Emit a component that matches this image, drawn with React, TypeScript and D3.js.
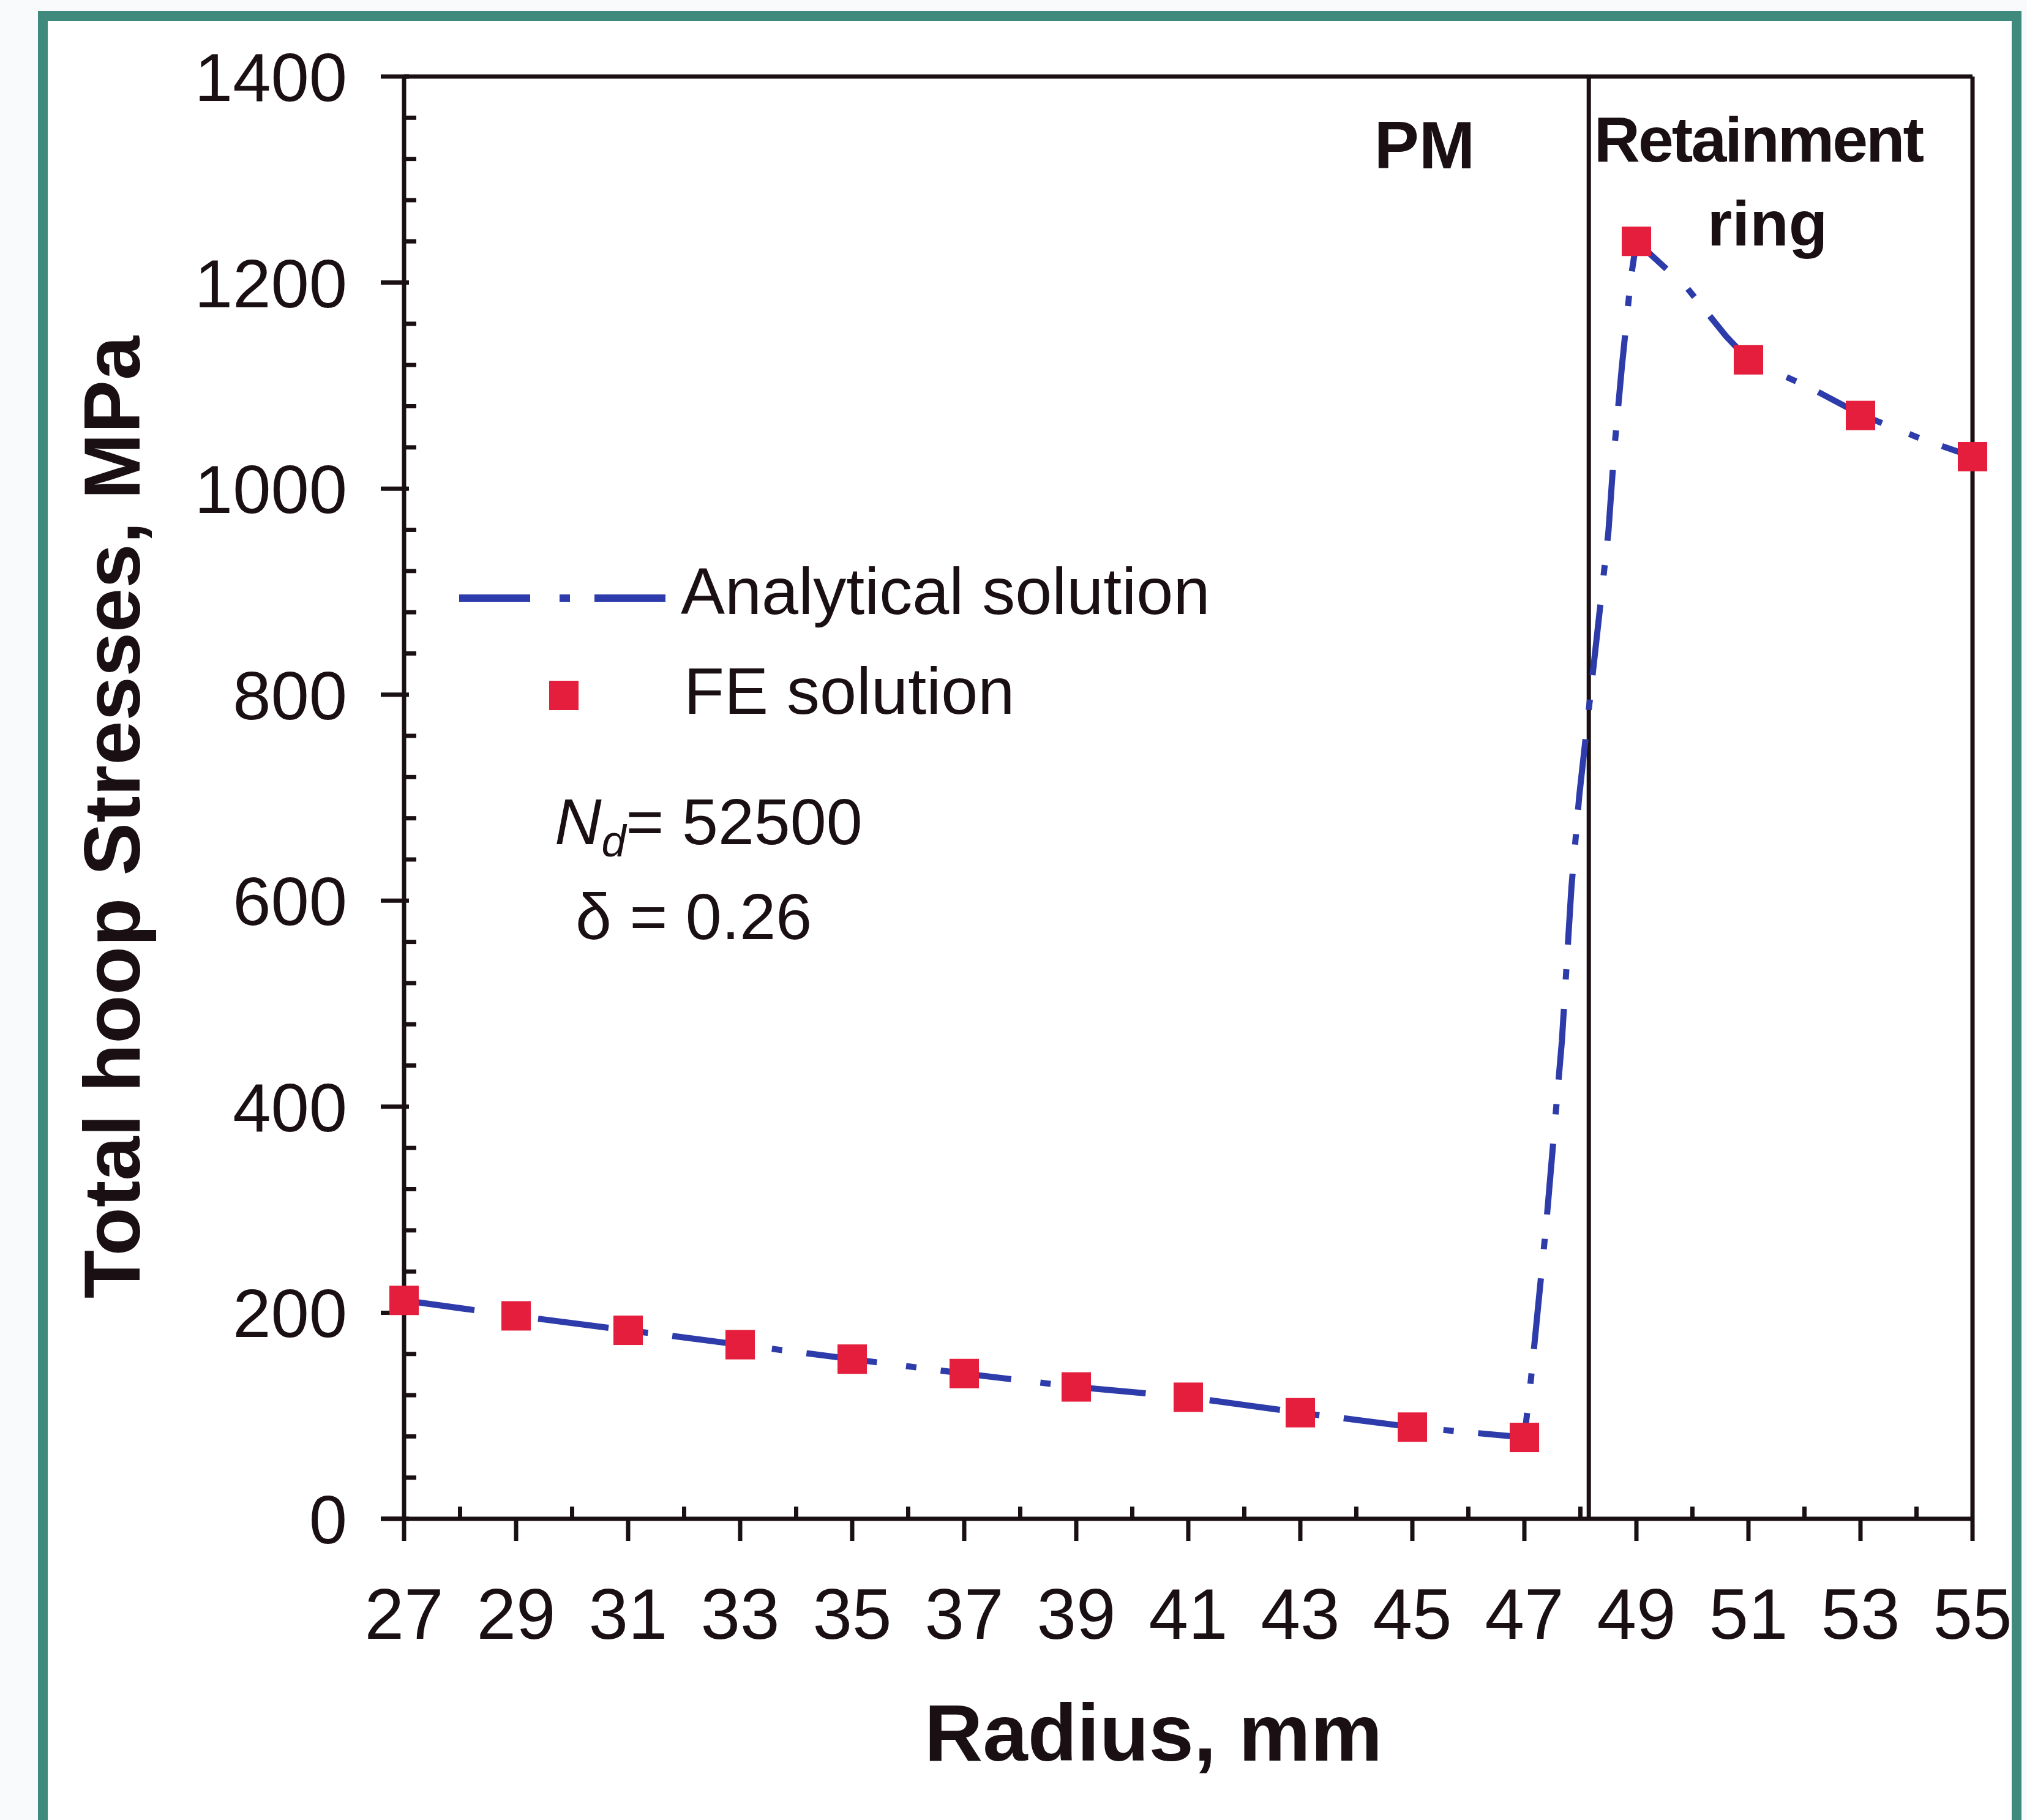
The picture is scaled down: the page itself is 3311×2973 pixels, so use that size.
import React from "react";
import * as d3 from "d3";

// FE solution markers (radius mm, hoop stress MPa)
const feRadius = [27, 29, 31, 33, 35, 37, 39, 41, 43, 45, 47, 49, 51, 53, 55];
const feStress = [212, 197, 183, 169, 155, 141, 128, 118, 103, 89, 79, 1240, 1125, 1071, 1031];

// analytical solution curve
const anRadius = [27, 29, 31, 33, 35, 37, 39, 41, 43, 45, 47, 47.12, 47.39, 47.67, 47.84, 47.98, 48.5, 48.6, 48.74, 48.9, 49, 49.9, 50.6, 51, 52.1, 53, 54.1, 55];
const anStress = [212, 197, 183, 169, 155, 141, 128, 118, 103, 89, 79, 137, 286, 464, 613, 702, 958, 1035, 1118, 1204, 1240, 1195, 1148, 1125, 1098, 1072, 1048, 1031];

const yTicks = [0, 200, 400, 600, 800, 1000, 1200, 1400];
const xTicks = [27, 29, 31, 33, 35, 37, 39, 41, 43, 45, 47, 49, 51, 53, 55];
const boundaryRadius = 48.15;

const W = 3311;
const H = 2973;
const BLUE = "#2d3caa";
const RED = "#e41e3c";
const TEAL = "#3f8a7d";
const INK = "#1a1014";
const narrow = "'Liberation Sans Narrow', 'Arial Narrow', 'Liberation Sans', Arial, sans-serif";
const sans = "'Liberation Sans', Arial, sans-serif";

export default function App() {
  const x = d3.scaleLinear().domain([27, 55]).range([660, 3222]);
  const y = d3.scaleLinear().domain([0, 1400]).range([2481, 125]);

  const minorY = d3.range(0, 1401, 40).filter((v) => v % 200 !== 0);
  const minorX = d3.range(28, 55, 2);

  const line = d3.line<number>()
    .x((d, i) => x(anRadius[i]))
    .y((d) => y(d));

  const x0 = x(27);
  const x1 = x(55);
  const yb = y(0);
  const yt = y(1400);
  const m = 48;

  return (
    <svg width={W} height={H} style={{ position: "absolute", left: 0, top: 0 }}>
      <rect x={0} y={0} width={W} height={H} fill="#f9fafc" />
      <rect x={70} y={26} width={3224} height={2960} fill="#ffffff" stroke={TEAL} strokeWidth={16} />

      {/* plot box */}
      <line x1={x0} y1={yt} x2={x1} y2={yt} stroke={INK} strokeWidth={7} />
      <line x1={x1} y1={yt} x2={x1} y2={yb} stroke={INK} strokeWidth={7} />
      <line x1={x(boundaryRadius)} y1={yt} x2={x(boundaryRadius)} y2={yb} stroke={INK} strokeWidth={7} />

      {/* y axis */}
      <line x1={x0} y1={yt} x2={x0} y2={yb} stroke={INK} strokeWidth={7} />
      {yTicks.map((v) => (
        <g key={"yt" + v}>
          <line x1={x0 - 38} y1={y(v)} x2={x0 + 8} y2={y(v)} stroke={INK} strokeWidth={7} />
          <text x={x0 - 93} y={y(v) + 40} textAnchor="end" fontFamily={narrow} fontSize={112} fill={INK}>{v}</text>
        </g>
      ))}
      {minorY.map((v) => (
        <line key={"my" + v} x1={x0} y1={y(v)} x2={x0 + 20} y2={y(v)} stroke={INK} strokeWidth={7} />
      ))}

      {/* x axis */}
      <line x1={x0 - 38} y1={yb} x2={x1} y2={yb} stroke={INK} strokeWidth={7} />
      {xTicks.map((v) => (
        <g key={"xt" + v}>
          <line x1={x(v)} y1={yb} x2={x(v)} y2={yb + 36} stroke={INK} strokeWidth={7} />
          <text x={x(v)} y={2677} textAnchor="middle" fontFamily={narrow} fontSize={116} fill={INK}>{v}</text>
        </g>
      ))}
      {minorX.map((v) => (
        <line key={"mx" + v} x1={x(v)} y1={yb} x2={x(v)} y2={yb - 20} stroke={INK} strokeWidth={7} />
      ))}

      {/* axis titles */}
      <text x={1884} y={2876} textAnchor="middle" fontFamily={sans} fontWeight="bold" fontSize={132} fill={INK}>Radius, mm</text>
      <text transform="translate(228,1335) rotate(-90)" textAnchor="middle" fontFamily={sans} fontWeight="bold" fontSize={130} fill={INK}>Total hoop Stresses, MPa</text>

      {/* region labels */}
      <text x={2327} y={275} textAnchor="middle" fontFamily={sans} fontWeight="bold" fontSize={110} fill={INK}>PM</text>
      <text x={2872} y={264} textAnchor="middle" fontFamily={sans} fontWeight="bold" fontSize={104} letterSpacing={-3} fill={INK}>Retainment</text>
      <text x={2887} y={401} textAnchor="middle" fontFamily={sans} fontWeight="bold" fontSize={104} fill={INK}>ring</text>

      {/* analytical line */}
      <path d={line(anStress) || ""} fill="none" stroke={BLUE} strokeWidth={10} strokeDasharray="116 48 17 40" />

      {/* FE markers */}
      {feRadius.map((r, i) => (
        <rect key={"fe" + r} x={x(r) - m / 2} y={y(feStress[i]) - m / 2} width={m} height={m} fill={RED} />
      ))}

      {/* legend */}
      <line x1={750} y1={977} x2={1093} y2={977} stroke={BLUE} strokeWidth={12} strokeDasharray="116 48 17 40" />
      <text x={1112} y={1003} fontFamily={sans} fontSize={108} fill={INK}>Analytical solution</text>
      <rect x={897} y={1112} width={48} height={48} fill={RED} />
      <text x={1117} y={1166} fontFamily={sans} fontSize={108} fill={INK}>FE solution</text>

      {/* parameters */}
      <text x={906} y={1379} fontFamily={sans} fontSize={106} fill={INK}>
        <tspan fontStyle="italic">N</tspan>
        <tspan fontStyle="italic" fontSize={72} dy={20}>d</tspan>
        <tspan dy={-20}>= 52500</tspan>
      </text>
      <text x={940} y={1534} fontFamily={sans} fontSize={106} fill={INK}>δ = 0.26</text>
    </svg>
  );
}
